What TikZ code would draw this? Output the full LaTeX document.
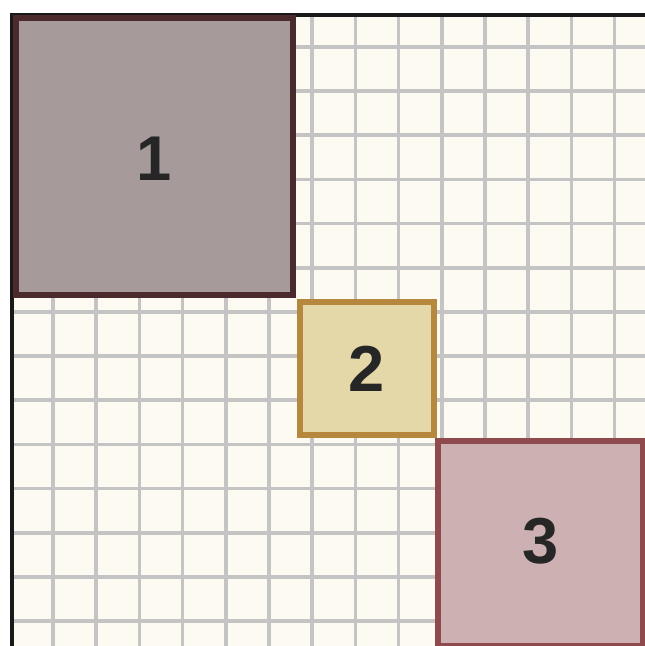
\documentclass[tikz,border=0pt]{standalone}
\usepackage{fontspec}
\setmainfont{Liberation Sans}
\usepackage{xcolor}

\definecolor{paper}{HTML}{FDFBF1}
\definecolor{gridgray}{HTML}{C4C4C4}
\definecolor{mauvefill}{HTML}{A69A9B}
\definecolor{mauveline}{HTML}{4A2A2C}
\definecolor{sandfill}{HTML}{E5D8A8}
\definecolor{sandline}{HTML}{B5883E}
\definecolor{rosefill}{HTML}{CDB0B1}
\definecolor{roseline}{HTML}{8E4A4C}

\begin{document}
\begin{tikzpicture}[x={(0.02cm,0)}, y={(0,-0.02cm)},
    block/.style={rectangle, draw, line width=3.3pt, inner sep=0pt, text=black!85,
        font=\fontsize{37}{40}\selectfont\bfseries}]

    \useasboundingbox (0,0) rectangle (645,646);
    \fill[paper] (10,13) rectangle (645,646);

    \foreach \i in {0,...,13} {
        \draw[gridgray, line width=2.1pt] (53+43.2*\i,13) -- (53+43.2*\i,646);
        \draw[gridgray, line width=2.1pt] (10,47+44.15*\i) -- (645,47+44.15*\i);
    }

    \coordinate (topleft) at (10,15);
    \coordinate (topright) at (645,15);
    \coordinate (cornerl) at (12,13);
    \coordinate (bottomleft) at (12,646);
    \draw[black!90, line width=2.1pt] (topleft) -- (topright);
    \draw[black!90, line width=2.1pt] (cornerl) -- (bottomleft);

    \node[block, fill=mauvefill, draw=mauveline, minimum width=5.54cm, minimum height=5.54cm] (first) at (154.5,156.5) {};
    \node[text=black!85, font=\fontsize{36}{40}\selectfont\bfseries] (firstlabel) at (154,159) {1};
    \node[block, fill=sandfill, draw=sandline, minimum width=2.68cm, minimum height=2.66cm] (second) at (367,368.5) {2};
    \node[block, fill=rosefill, draw=roseline, minimum width=4.1cm, minimum height=4.1cm] (third) at (540.5,543.5) {};
    \node[text=black!85, font=\fontsize{37}{40}\selectfont\bfseries] (thirdlabel) at (541,541) {3};
\end{tikzpicture}
\end{document}
